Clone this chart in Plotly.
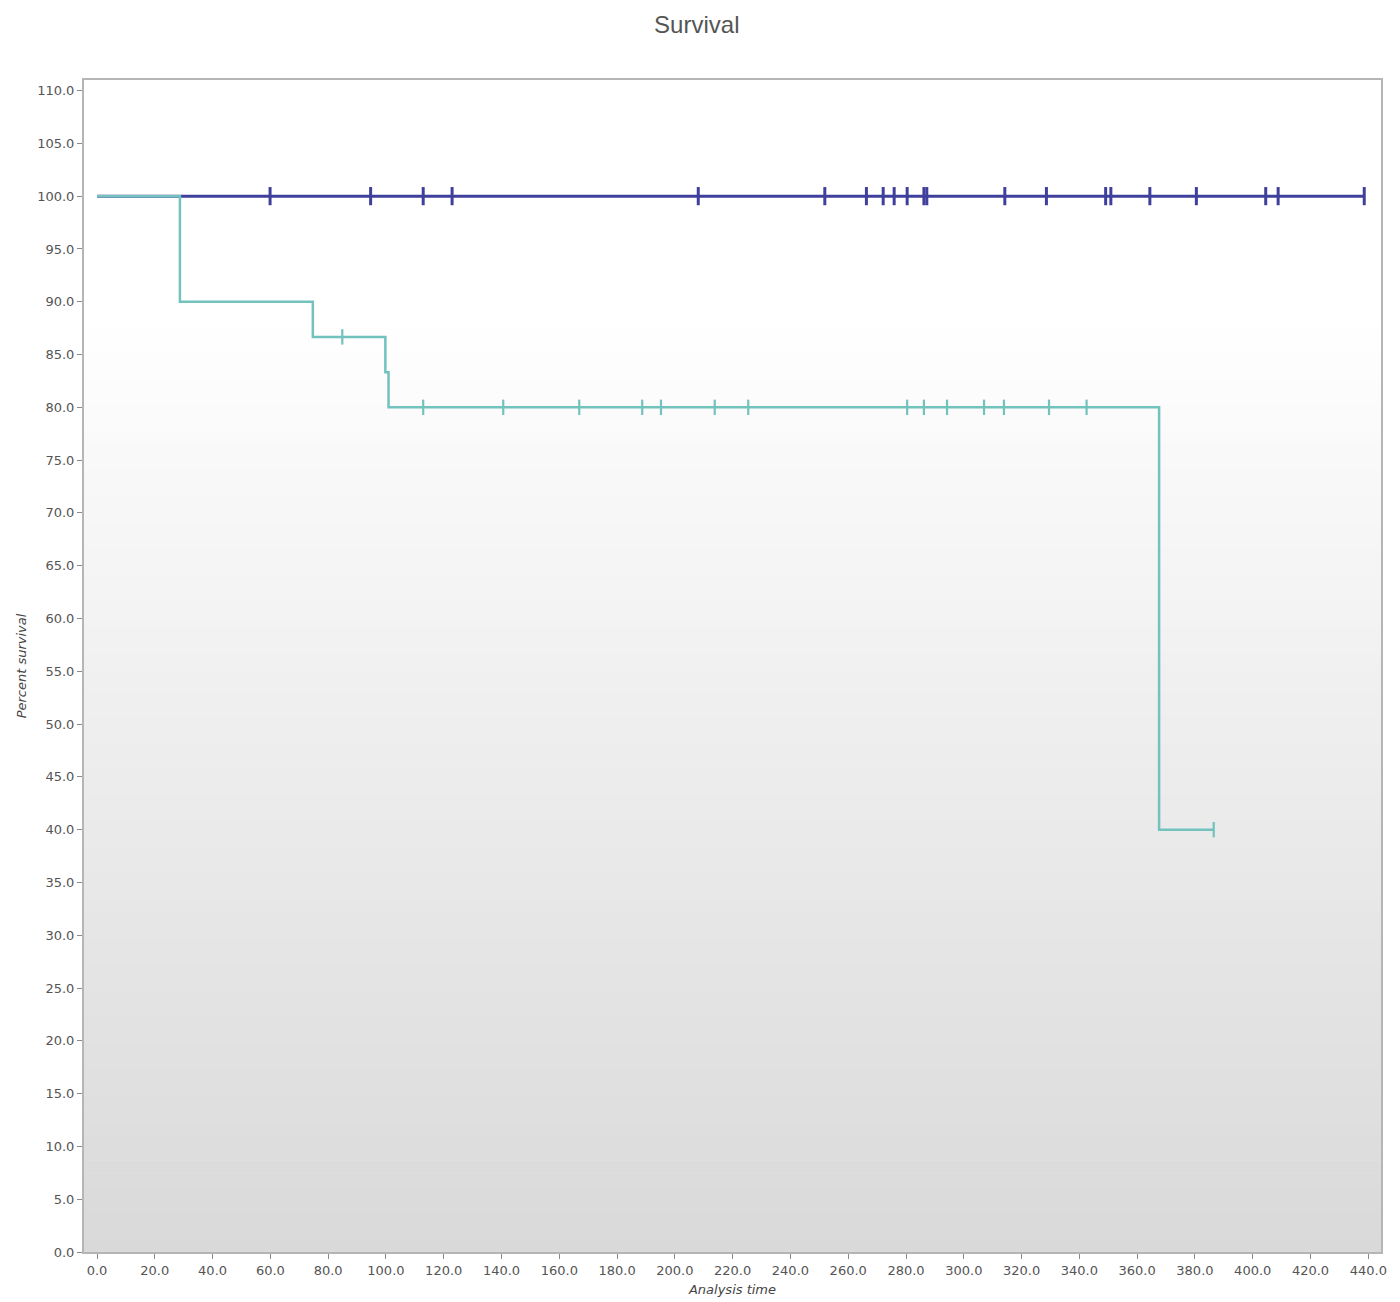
import plotly.graph_objects as go

# ---- data ----
# Group A (dark blue): no events, survival stays 100
blue_times = [0.0, 438.6]
blue_surv = [100.0, 100.0]
blue_censor_times = [59.9, 94.7, 112.9, 122.9, 208.1, 251.9, 266.3, 272.1, 275.9,
                     280.4, 286.2, 287.2, 314.2, 328.6, 349.1, 350.9, 364.4, 380.5,
                     404.5, 408.8, 438.6]

# Group B (teal): step survival curve
teal_times = [0.0, 28.7, 74.7, 99.8, 100.9, 367.6, 386.5]
teal_surv = [100.0, 90.0, 86.67, 83.33, 80.0, 40.0, 40.0]
teal_censor_times = [84.9, 112.9, 140.6, 166.9, 188.7, 195.2, 213.8, 225.4, 280.4,
                     286.2, 294.2, 307.0, 313.9, 329.5, 342.5, 386.5]
teal_censor_surv = [86.67, 80.0, 80.0, 80.0, 80.0, 80.0, 80.0, 80.0, 80.0,
                    80.0, 80.0, 80.0, 80.0, 80.0, 80.0, 40.0]

x_ticks = [i * 20 for i in range(23)]
y_ticks = [i * 5 for i in range(23)]

BLUE = "#3f3f9c"
TEAL = "#72c2bd"
FONT = "DejaVu Sans, Verdana, sans-serif"

fig = go.Figure()

fig.add_trace(go.Scatter(x=blue_times, y=blue_surv, mode="lines", line_shape="hv",
                         line=dict(color=BLUE, width=3), hoverinfo="skip", showlegend=False))
fig.add_trace(go.Scatter(x=blue_censor_times, y=[100.0] * len(blue_censor_times), mode="markers",
                         marker=dict(symbol="line-ns", size=13, line=dict(color=BLUE, width=3)),
                         showlegend=False))
fig.add_trace(go.Scatter(x=teal_times, y=teal_surv, mode="lines", line_shape="hv",
                         line=dict(color=TEAL, width=2.5), hoverinfo="skip", showlegend=False))
fig.add_trace(go.Scatter(x=teal_censor_times, y=teal_censor_surv, mode="markers",
                         marker=dict(symbol="line-ns", size=11, line=dict(color=TEAL, width=2.2)),
                         showlegend=False))

# vertical gradient background (white -> light grey)
shapes = []
n = 90
for i in range(n):
    f0 = i / n
    f1 = (i + 1) / n
    fm = (f0 + f1) / 2  # fraction from top
    if fm < 0.2:
        g = 255
    else:
        g = round(255 - (255 - 217) * (fm - 0.2) / 0.8)
    shapes.append(dict(type="rect", xref="x domain", yref="y domain",
                       x0=0, x1=1, y0=1 - f1, y1=1 - f0 + 0.0005,
                       fillcolor=f"rgb({g},{g},{g})", line=dict(width=0), layer="below"))

fig.update_layout(
    width=1400, height=1302,
    margin=dict(l=76, r=27, t=72, b=58),
    paper_bgcolor="white",
    plot_bgcolor="white",
    shapes=shapes,
    font=dict(family=FONT, color="#555555", size=13),
    title=dict(text="Survival", x=0.492, xref="container", xanchor="center",
               y=1 - 17 / 1302, yref="container", yanchor="middle",
               font=dict(family="Liberation Sans, Arial, sans-serif", size=24, color="#555555")),
    xaxis=dict(range=[-4.5, 444.4], tickvals=x_ticks, tickformat=".1f",
               showgrid=False, zeroline=False, showline=True, linecolor="#b5b5b5",
               linewidth=2, mirror=True, ticks="outside", ticklen=5, tickcolor="#8a8a8a",
               tickfont=dict(family=FONT, size=13, color="#555555"),
               title=dict(text="<i>Analysis time</i>",
                          font=dict(family=FONT, size=13, color="#444444"), standoff=8)),
    yaxis=dict(range=[0, 111], tickvals=y_ticks, tickformat=".1f",
               showgrid=False, zeroline=False, showline=True, linecolor="#b5b5b5",
               linewidth=2, mirror=True, ticks="outside", ticklen=5, tickcolor="#8a8a8a",
               tickfont=dict(family=FONT, size=13, color="#555555"),
               title=dict(text="<i>Percent survival</i>",
                          font=dict(family=FONT, size=13, color="#444444"), standoff=8)),
)

fig.write_html("out.html")
